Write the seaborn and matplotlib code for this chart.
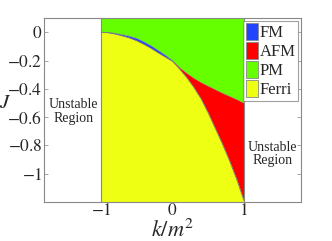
import numpy as np
import pandas as pd
import matplotlib
matplotlib.use("Agg")
import matplotlib.pyplot as plt
from matplotlib.patches import Patch
import seaborn as sns

# boundary curves
k_vals = [-1.0, -0.9, -0.8, -0.7, -0.6, -0.5, -0.4, -0.3, -0.2, -0.1, 0.0,
          0.1, 0.2, 0.3, 0.4, 0.5, 0.6, 0.7, 0.8, 0.9, 1.0]
ferri_top = [0.0, -0.003, -0.012, -0.025, -0.04, -0.06, -0.085, -0.113, -0.145, -0.175, -0.205,
             -0.26, -0.32, -0.39, -0.47, -0.57, -0.68, -0.79, -0.91, -1.04, -1.19]
pm_bottom = [0.0, 0.0, -0.007, -0.016, -0.027, -0.043, -0.067, -0.095, -0.128, -0.162, -0.2,
             -0.25, -0.29, -0.325, -0.355, -0.38, -0.405, -0.43, -0.452, -0.475, -0.5]
phases = ["FM", "AFM", "PM", "Ferri"]
phase_colors = ["#2244ff", "#ff0000", "#66ff00", "#eeff14"]
x_ticks = [-1, 0, 1]
y_ticks = [0, -0.2, -0.4, -0.6, -0.8, -1]

sns.set_style("ticks")
plt.rcParams["font.family"] = ["Liberation Serif", "DejaVu Serif"]
plt.rcParams["mathtext.fontset"] = "stix"

df = pd.DataFrame({"k": k_vals, "ferri": ferri_top, "pm": pm_bottom})
col = dict(zip(phases, phase_colors))

fig = plt.figure(figsize=(3.32, 2.41), dpi=100)
ax = fig.add_axes([0.1325, 0.162, 0.774, 0.763])

ymin, ymax = -1.2, 0.1
k = df["k"].to_numpy()
ax.fill_between(k, ymin, df["ferri"], color=col["Ferri"], lw=0)
ax.fill_between(k, df["pm"], ymax, color=col["PM"], lw=0)
ax.fill_between(k, df["ferri"], df["pm"], where=k <= 0, color=col["FM"], lw=0)
ax.fill_between(k, df["ferri"], df["pm"], where=k >= 0, color=col["AFM"], lw=0)

# thin grey phase boundaries
sns.lineplot(data=df, x="k", y="ferri", color="#777777", lw=0.6, ax=ax)
sns.lineplot(data=df, x="k", y="pm", color="#777777", lw=0.4, alpha=0.6, ax=ax)
ax.axvline(-1, color="#888888", lw=0.8)
ax.axvline(1, color="#888888", lw=0.8)

ax.text(-1.39, -0.56, "Unstable\nRegion", ha="center", va="center", fontsize=10, linespacing=1.05)
ax.text(1.40, -0.86, "Unstable\nRegion", ha="center", va="center", fontsize=10, linespacing=1.05)

ax.set_xlim(-1.8, 1.8)
ax.set_ylim(ymin, ymax)
ax.set_xticks(x_ticks)
ax.set_xticklabels(["$-1$", "$0$", "$1$"])
ax.set_yticks(y_ticks)
ax.set_yticklabels(["$0$", "$-0.2$", "$-0.4$", "$-0.6$", "$-0.8$", "$-1$"])
ax.tick_params(direction="in", length=3, width=0.6, color="#999999", labelsize=12.5,
               top=True, right=True, pad=1)
for s in ax.spines.values():
    s.set_color("#888888")
    s.set_linewidth(0.8)
ax.set_xlabel("$k/m^2$", fontsize=16, labelpad=0)
ax.set_ylabel("$J$", fontsize=15, rotation=0, va="center")
ax.yaxis.set_label_coords(-0.152, 0.535)

handles = [Patch(facecolor=col[p], edgecolor="#888888", lw=0.6) for p in phases]
leg = ax.legend(handles, phases, loc="upper right", fontsize=12, frameon=True, fancybox=False,
                handlelength=0.75, handleheight=1.2, handletextpad=0.1, labelspacing=0.05,
                borderpad=0.15, borderaxespad=0.15)
leg.get_frame().set_edgecolor("#888888")
leg.get_frame().set_linewidth(0.8)

fig.savefig("out.png", dpi=100)
